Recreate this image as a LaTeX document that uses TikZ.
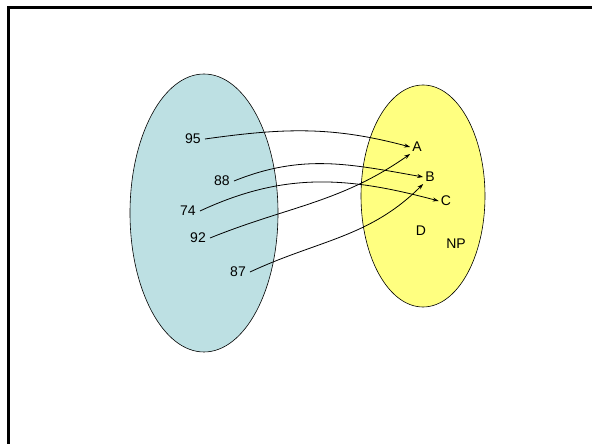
\documentclass[tikz,border=0pt]{standalone}
\usepackage{fontspec}
\setmainfont{Liberation Sans}
\usetikzlibrary{arrows.meta}
\definecolor{setblue}{HTML}{BDE0E3}
\definecolor{setyellow}{HTML}{FFFF80}

\begin{document}
\begin{tikzpicture}[x=1pt, y=1pt,
  num/.style={font=\fontsize{14}{16}\selectfont, inner sep=4pt},
  lett/.style={font=\fontsize{14}{16}\selectfont, inner sep=2pt},
  map/.style={-{Stealth[length=6pt, width=4pt]}, line width=0.8pt},
  >=Stealth
]
  \useasboundingbox (0,0) rectangle (592,444);
  % slide frame
  \draw[line width=3pt] (8,0) -- (8,436) -- (592,436);

  % Sets
  \draw[fill=setblue, line width=0.6pt] (204,231) ellipse [x radius=74, y radius=139];
  \draw[fill=setyellow, line width=0.6pt] (423,248) ellipse [x radius=62, y radius=111];

  % Scores
  \node[num] (n95) at (193,305) {95};
  \node[num] (n88) at (222,263) {88};
  \node[num] (n74) at (188,233) {74};
  \node[num] (n92) at (198,206) {92};
  \node[num] (n87) at (238,172) {87};

  % Grades
  \node[lett] (A) at (417,297) {A};
  \node[lett] (B) at (430,267) {B};
  \node[lett] (C) at (446,243) {C};
  \node[lett] (D) at (421,213) {D};
  \node[lett] (NP) at (456,200) {NP};

  % Mapping
  \draw[map] (n95.east) to[out=8, in=165] (A.west);
  \draw[map] (n88.east) to[out=22, in=170] (B.west);
  \draw[map] (n74.east) to[out=25, in=165] (C.west);
  \draw[map] (n92.east) to[out=22, in=215] (A.south west);
  \draw[map] (n87.east) to[out=25, in=225] (B.south west);
\end{tikzpicture}
\end{document}
